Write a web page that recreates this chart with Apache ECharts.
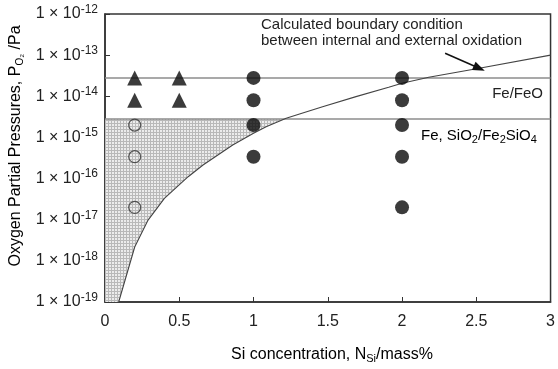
<!DOCTYPE html>
<html>
<head>
<meta charset="utf-8">
<script src="https://cdn.jsdelivr.net/npm/echarts@6/dist/echarts.min.js"></script>
<style>html,body{margin:0;padding:0;background:#fff}#c{width:558px;height:369px}</style>
</head>
<body>
<div id="c"></div>
<script>
// ---- data ----
const xTicks = [0, 0.5, 1, 1.5, 2, 2.5, 3];
const yExponents = [-19, -18, -17, -16, -15, -14, -13, -12];
const feFeO = 2.8e-14;          // Fe/FeO equilibrium
const feSiO2 = 2.8e-15;         // Fe, SiO2/Fe2SiO4 equilibrium
const triangles = [[0.2, 2.8e-14], [0.2, 8e-15], [0.5, 2.8e-14], [0.5, 8e-15]];
const openCircles = [[0.2, 2e-15], [0.2, 3.4e-16], [0.2, 2e-17]];
const filledCircles = [[1, 2.8e-14], [1, 8e-15], [1, 2e-15], [1, 3.4e-16],
                       [2, 2.8e-14], [2, 8e-15], [2, 2e-15], [2, 3.4e-16], [2, 2e-17]];
const curveX = [0.092, 0.10, 0.20, 0.29, 0.40, 0.56, 0.66, 0.86, 1.0, 1.085, 1.22, 1.31, 1.465, 1.69, 1.91, 2.0, 2.18, 2.52, 3.0];
const curveY = [1e-19, 1.25e-19, 2.17e-18, 9.8e-18, 3.3e-17, 1.11e-16, 2.14e-16, 6.55e-16, 1.26e-15, 1.82e-15, 2.92e-15,
                3.71e-15, 5.58e-15, 9.8e-15, 1.65e-14, 2.07e-14, 2.89e-14, 4.79e-14, 1.0e-13];
const shadeRight = 1.21;         // where shaded region meets the Fe,SiO2 line
const arrowFrom = [2.29, 1.11e-13];
const arrowTo = [2.52, 4.8e-14];

const curve = curveX.map((x, i) => [x, curveY[i]]);
// shaded polygon: left edge, top line, then back down along the curve
const shadePoly = [[0, curveY[0]], [0, feSiO2], [shadeRight, feSiO2]]
  .concat(curve.filter(p => p[0] < shadeRight).reverse());

const FONT = 'Liberation Sans';

// fine grid pattern for the shaded area
const pat = document.createElement('canvas');
pat.width = 3; pat.height = 3;
const pc = pat.getContext('2d');
pc.fillStyle = '#ececec'; pc.fillRect(0, 0, 3, 3);
pc.fillStyle = '#b9b9b9'; pc.fillRect(0, 0, 3, 1); pc.fillRect(0, 0, 1, 3);

const chart = echarts.init(document.getElementById('c'), null, {renderer: 'canvas'});
chart.setOption({
  animation: false,
  backgroundColor: '#fff',
  grid: {left: 105, right: 6, top: 14, bottom: 67, show: true, borderColor: '#333', borderWidth: 1.5, backgroundColor: 'transparent'},
  xAxis: {
    type: 'value', min: xTicks[0], max: xTicks[xTicks.length - 1], interval: 0.5,
    axisLine: {show: true, lineStyle: {color: '#333', width: 1.5}},
    axisTick: {show: true, inside: true, length: 5, lineStyle: {color: '#333'}},
    axisLabel: {color: '#222', fontFamily: FONT, fontSize: 16, margin: 12},
    splitLine: {show: false}
  },
  yAxis: {
    type: 'log', logBase: 10, min: Math.pow(10, yExponents[0]), max: Math.pow(10, yExponents[yExponents.length - 1]),
    interval: 1,
    axisLine: {show: true, lineStyle: {color: '#333', width: 1.5}},
    axisTick: {show: true, inside: true, length: 5, lineStyle: {color: '#333'}},
    splitLine: {show: false},
    axisLabel: {
      margin: 7, color: '#222', fontFamily: FONT,
      formatter: v => '{n|1 × 10}{s|' + Math.round(Math.log10(v)) + '}',
      rich: {
        n: {fontSize: 16, fontFamily: FONT, color: '#222'},
        s: {fontSize: 12, fontFamily: FONT, color: '#222', padding: [0, 0, 9, 0]}
      }
    }
  },
  graphic: [
    {type: 'text', left: 261, top: 17, z: 100,
     style: {text: 'Calculated boundary condition\nbetween internal and external oxidation', font: '15px "Liberation Sans"', fill: '#222', lineHeight: 16}},
    {type: 'text', x: 543, y: 94, z: 100,
     style: {text: 'Fe/FeO', font: '15px "Liberation Sans"', fill: '#222', align: 'right', verticalAlign: 'middle'}},
    {type: 'text', x: 421, y: 136, z: 100,
     style: {text: '{n|Fe, SiO}{b|2}{n|/Fe}{b|2}{n|SiO}{b|4}', verticalAlign: 'middle',
       rich: {n: {fontSize: 15, fontFamily: FONT, color: '#222'}, b: {fontSize: 11, fontFamily: FONT, color: '#222', padding: [7, 0, 0, 0]}}}},
    {type: 'text', x: 332, y: 355, z: 100,
     style: {text: '{n|Si concentration, N}{b|Si}{n|/mass%}', align: 'center', verticalAlign: 'middle',
       rich: {n: {fontSize: 16, fontFamily: FONT, color: '#222'}, b: {fontSize: 11, fontFamily: FONT, color: '#222', padding: [7, 0, 0, 0]}}}},
    {type: 'text', x: 16, y: 146, rotation: Math.PI / 2, z: 100,
     style: {text: '{n|Oxygen Partial Pressures, P}{b|O₂}{n| /Pa}', align: 'center', verticalAlign: 'middle',
       rich: {n: {fontSize: 16, fontFamily: FONT, color: '#222'}, b: {fontSize: 10, fontFamily: FONT, color: '#222', padding: [8, 0, 0, 0]}}}}
  ],
  series: [
    {
      type: 'custom', z: 1, silent: true,
      data: [0],
      renderItem: (params, api) => ({
        type: 'polygon',
        shape: {points: shadePoly.map(p => api.coord(p))},
        style: {fill: {image: pat, repeat: 'repeat'}, stroke: null}
      })
    },
    {type: 'line', z: 3, symbol: 'none', silent: true, data: [[xTicks[0], feFeO], [xTicks[xTicks.length - 1], feFeO]],
     lineStyle: {color: '#8c8c8c', width: 1.5}},
    {type: 'line', z: 3, symbol: 'none', silent: true, data: [[xTicks[0], feSiO2], [xTicks[xTicks.length - 1], feSiO2]],
     lineStyle: {color: '#8c8c8c', width: 1.5}},
    {type: 'line', z: 4, symbol: 'none', silent: true, smooth: false, data: curve,
     lineStyle: {color: '#444', width: 1.1},
     markLine: {silent: true, symbol: ['none', 'triangle'], symbolSize: [9, 12], label: {show: false},
       lineStyle: {color: '#111', width: 1.5, type: 'solid'},
       data: [[{coord: arrowFrom}, {coord: arrowTo}]]}},
    {type: 'scatter', z: 6, symbol: 'triangle', symbolSize: 15, data: triangles, itemStyle: {color: '#0a0a0a'}},
    {type: 'scatter', z: 6, symbol: 'circle', symbolSize: 12, data: openCircles,
     itemStyle: {color: 'rgba(0,0,0,0)', borderColor: '#333', borderWidth: 1.2}},
    {type: 'scatter', z: 6, symbol: 'circle', symbolSize: 14, data: filledCircles, itemStyle: {color: '#0a0a0a'}}
  ]
});
</script>
</body>
</html>
